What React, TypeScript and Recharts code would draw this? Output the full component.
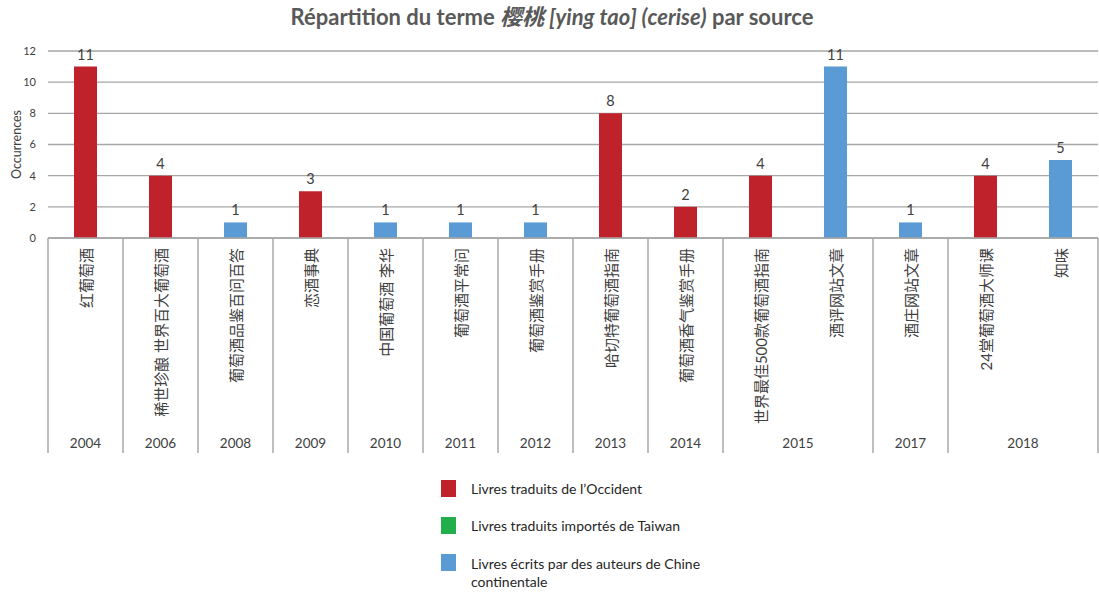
import React from 'react';
import { BarChart, Bar, XAxis, YAxis, CartesianGrid, LabelList } from 'recharts';

const categories = [
  '红葡萄酒',
  '稀世珍酿 世界百大葡萄酒',
  '葡萄酒品鉴百问百答',
  '恋酒事典',
  '中国葡萄酒 李华',
  '葡萄酒平常问',
  '葡萄酒鉴赏手册',
  '哈切特葡萄酒指南',
  '葡萄酒香气鉴赏手册',
  '世界最佳500款葡萄酒指南',
  '酒评网站文章',
  '酒庄网站文章',
  '24堂葡萄酒大师课',
  '知味',
];
const years = ['2004', '2006', '2008', '2009', '2010', '2011', '2012', '2013', '2014', '2015', '2015', '2017', '2018', '2018'];
const occident = [11, 4, 0, 3, 0, 0, 0, 8, 2, 4, 0, 0, 4, 0];
const taiwan = [0, 0, 0, 0, 0, 0, 0, 0, 0, 0, 0, 0, 0, 0];
const chine = [0, 0, 1, 0, 1, 1, 1, 0, 0, 0, 11, 1, 0, 5];
const yTicks = [0, 2, 4, 6, 8, 10, 12];

const seriesNames = [
  'Livres traduits de l’Occident',
  'Livres traduits importés de Taiwan',
  'Livres écrits par des auteurs de Chine continentale',
];
const colors = ['#C0222B', '#22AE4B', '#5B9BD5'];

const W = 1099;
const H = 595;
const PLOT_LEFT = 48;
const PLOT_RIGHT = 1098;
const PLOT_TOP = 51;
const PLOT_BOTTOM = 238;
const BAND = (PLOT_RIGHT - PLOT_LEFT) / categories.length;
const FONT = 'Lato, "Noto Sans CJK SC", sans-serif';
const TEXT = '#404040';

const data = categories.map((c, i) => ({
  name: c,
  year: years[i],
  occident: occident[i],
  taiwan: taiwan[i],
  chine: chine[i],
}));

function CategoryTick(props: any) {
  const { x, payload } = props;
  const i = payload.index;
  const first = i === 0 || years[i] !== years[i - 1];
  let span = 0;
  if (first) {
    while (i + span < years.length && years[i + span] === years[i]) span++;
  }
  const left = x - BAND / 2;
  return (
    <g>
      <text
        x={x}
        y={248}
        transform={`rotate(-90, ${x}, 248)`}
        textAnchor="end"
        dominantBaseline="central"
        fontSize={15}
        fill={TEXT}
        fontFamily={FONT}
      >
        {categories[i]}
      </text>
      {first && (
        <line x1={left} x2={left} y1={PLOT_BOTTOM} y2={453} stroke="#a8a8a8" strokeWidth={1.5} />
      )}
      {i === categories.length - 1 && (
        <line x1={x + BAND / 2} x2={x + BAND / 2} y1={PLOT_BOTTOM} y2={453} stroke="#a8a8a8" strokeWidth={1.5} />
      )}
      {first && (
        <text
          x={left + (span * BAND) / 2}
          y={443}
          textAnchor="middle"
          dominantBaseline="central"
          fontSize={13.5}
          fill={TEXT}
          fontFamily={FONT}
        >
          {years[i]}
        </text>
      )}
    </g>
  );
}

const fmt = (v: any) => (v ? v : '');
const labelStyle = { fontSize: 14.5, fontFamily: FONT };

export default function App() {
  return (
    <div style={{ position: 'absolute', left: 0, top: 0, width: W, height: H, background: '#fff', fontFamily: FONT }}>
      <div
        style={{
          position: 'absolute',
          left: 0,
          top: 4,
          width: 1104,
          textAlign: 'center',
          fontSize: 22,
          fontWeight: 700,
          color: '#595959',
          lineHeight: '26px',
        }}
      >
        Répartition du terme <i>樱桃 [ying tao] (cerise)</i> par source
      </div>
      <BarChart
        width={W}
        height={H}
        data={data}
        margin={{ top: PLOT_TOP, right: W - PLOT_RIGHT, left: 0, bottom: 0 }}
        barSize={23}
      >
        <CartesianGrid vertical={false} stroke="#a6a6a6" strokeWidth={1.3} />
        <XAxis
          dataKey="name"
          interval={0}
          height={H - PLOT_BOTTOM}
          axisLine={{ stroke: '#a6a6a6', strokeWidth: 1.5 }}
          tickLine={false}
          tick={<CategoryTick />}
        />
        <YAxis
          width={PLOT_LEFT}
          domain={[0, 12]}
          ticks={yTicks}
          axisLine={false}
          tickLine={false}
          tickMargin={6}
          tick={{ fontSize: 11, fill: TEXT, fontFamily: FONT }}
          label={{
            value: 'Occurrences',
            angle: -90,
            position: 'insideLeft',
            offset: 17,
            fill: TEXT,
            style: { textAnchor: 'middle', fontSize: 12.5, fontFamily: FONT },
          }}
        />
        <Bar dataKey="occident" stackId="a" fill={colors[0]} isAnimationActive={false}>
          <LabelList dataKey="occident" position="top" offset={7} formatter={fmt} fill={TEXT} style={labelStyle} />
        </Bar>
        <Bar dataKey="taiwan" stackId="a" fill={colors[1]} isAnimationActive={false}>
          <LabelList dataKey="taiwan" position="top" offset={7} formatter={fmt} fill={TEXT} style={labelStyle} />
        </Bar>
        <Bar dataKey="chine" stackId="a" fill={colors[2]} isAnimationActive={false}>
          <LabelList dataKey="chine" position="top" offset={7} formatter={fmt} fill={TEXT} style={labelStyle} />
        </Bar>
      </BarChart>
      <div style={{ position: 'absolute', left: 441, top: 480, fontSize: 14, color: '#262626' }}>
        {seriesNames.map((n, i) => (
          <div key={n} style={{ display: 'flex', alignItems: 'flex-start', height: 37 }}>
            <div style={{ width: 15, height: 17, background: colors[i], marginRight: 15, flexShrink: 0 }} />
            <div style={{ width: 250, lineHeight: '18px', marginTop: i === 2 ? 1 : 0 }}>{n}</div>
          </div>
        ))}
      </div>
    </div>
  );
}
